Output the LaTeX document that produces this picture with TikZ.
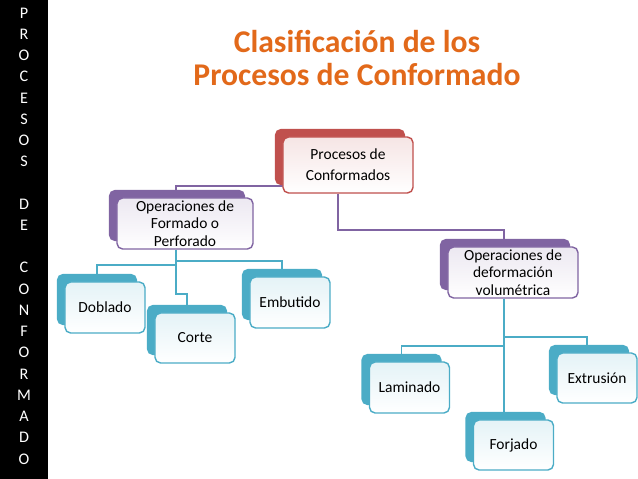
\documentclass[tikz,border=0pt]{standalone}
\usepackage{fontspec}
\setmainfont{Carlito}
\usetikzlibrary{shadows,backgrounds}
\definecolor{rojo}{HTML}{C0504D}
\definecolor{morado}{HTML}{8064A2}
\definecolor{aqua}{HTML}{4BACC6}
\definecolor{naranja}{HTML}{E2691A}
\begin{document}
\begin{tikzpicture}[x=0.025cm, y=-0.025cm, every node/.style={font=\fontsize{11}{13}\selectfont},
    caja/.style={draw=#1, line width=1pt, rounded corners=4pt, top color=#1!15!white, bottom color=white,
        inner sep=0pt, align=center, copy shadow={shadow xshift=-0.2cm, shadow yshift=0.2cm, fill=#1, draw=none}},
    linea/.style={draw=#1, line width=1.2pt}]
    \useasboundingbox (0,0) rectangle (638,479);

    % Barra lateral
    \fill[black] (0,0) rectangle (48,479);
    \node[text=white, align=center, font=\fontsize{11.5}{15.1}\selectfont] (lado) at (24,236)
        {P\\R\\O\\C\\E\\S\\O\\S\\ \\D\\E\\ \\C\\O\\N\\F\\O\\R\\M\\A\\D\\O};

    % Titulo
    \node[text=naranja, align=center, font=\fontsize{22.5}{23.4}\selectfont\bfseries] (titulo) at (357,58)
        {Clasificación de los\\Procesos de Conformado};

    % Nodo raiz
    \node[caja=rojo, minimum width=3.25cm, minimum height=1.4cm, font=\fontsize{11}{14.7}\selectfont] (raiz) at (348,165) {Procesos de\\Conformados};

    % Segundo nivel
    \node[caja=morado, minimum width=3.4cm, minimum height=1.275cm, font=\fontsize{11}{12.5}\selectfont] (opfor) at (185,223.5) {Operaciones de\\Formado o\\Perforado};
    \node[caja=morado, minimum width=3.25cm, minimum height=1.275cm, font=\fontsize{11}{12.5}\selectfont] (opdef) at (513,272.5) {Operaciones de\\deformación\\volumétrica};

    % Tercer nivel
    \node[caja=aqua, minimum width=2cm, minimum height=1.275cm] (dob) at (105,307.5) {Doblado};
    \node[caja=aqua, minimum width=2cm, minimum height=1.25cm] (cor) at (195,338) {Corte};
    \node[caja=aqua, minimum width=2cm, minimum height=1.275cm] (emb) at (290,302.5) {Embutido};
    \node[caja=aqua, minimum width=2cm, minimum height=1.275cm] (lam) at (409.5,387.5) {Laminado};
    \node[caja=aqua, minimum width=2cm, minimum height=1.25cm] (forj) at (513.5,445) {Forjado};
    \node[caja=aqua, minimum width=2cm, minimum height=1.25cm] (ext) at (597,378) {Extrusión};

    % Conectores
    \begin{scope}[on background layer]
        \draw[linea=morado] ([yshift=-0.525cm]raiz.center) -| ([xshift=-0.225cm]opfor.north);
        \draw[linea=morado] ([xshift=-0.25cm]raiz.south) -- ++(0,-0.9cm) -| ([xshift=-0.225cm]opdef.north);
        \draw[linea=aqua] ([xshift=-0.225cm]opfor.south) -- ++(0,-0.375cm) -| ([xshift=-0.2cm]dob.north);
        \draw[linea=aqua] ([xshift=-0.225cm]opfor.south) -- ++(0,-0.275cm) -| ([xshift=-0.2cm]emb.north);
        \draw[linea=aqua] ([xshift=-0.225cm]opfor.south) -- ++(0,-1.1cm) -| ([xshift=-0.2cm]cor.north);
        \draw[linea=aqua] ([xshift=-0.225cm]opdef.south) -- ++(0,-1.175cm) -| ([xshift=-0.2cm]lam.north);
        \draw[linea=aqua] ([xshift=-0.225cm]opdef.south) -- ++(0,-0.95cm) -| ([xshift=-0.25cm]ext.north);
        \draw[linea=aqua] ([xshift=-0.225cm]opdef.south) -- ([xshift=-0.225cm]opdef.south |- forj.north);
    \end{scope}
\end{tikzpicture}
\end{document}
